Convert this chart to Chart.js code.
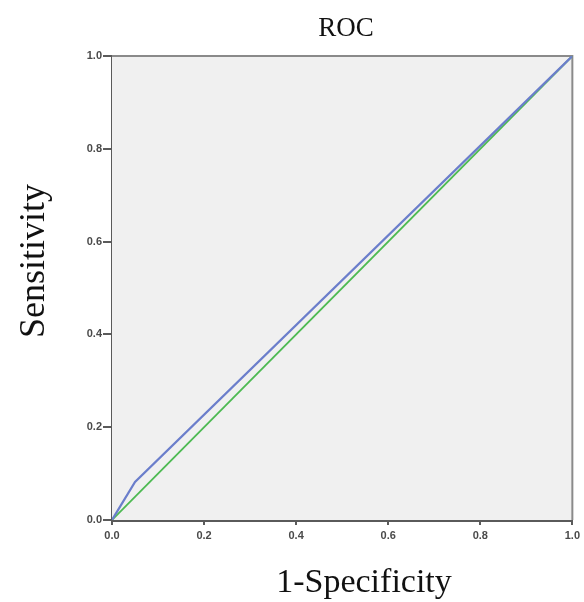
<!DOCTYPE html>
<html>
<head>
<meta charset="utf-8">
<script src="https://cdn.jsdelivr.net/npm/chart.js@4"></script>
<style>
  html, body { margin: 0; padding: 0; background: #fff; }
  #wrap { width: 584px; height: 602px; }
</style>
</head>
<body>
<div id="wrap"><canvas id="roc"></canvas></div>
<script>
// ROC curve: model vs. chance line
const specComplement = [0, 0.05, 1];     // 1 - specificity
const sensitivity = [0, 0.082, 1];
const chanceX = [0, 1];
const chanceY = [0, 1];
const tickValues = [0, 0.2, 0.4, 0.6, 0.8, 1.0];

const toPoints = (xs, ys) => xs.map((x, i) => ({ x, y: ys[i] }));

const axisColor = '#5a5a5a';
const tickFont = { family: 'Liberation Sans, Arial, sans-serif', size: 11, weight: 'bold' };

// plot background, frame and serif titles
const frame = {
  id: 'frame',
  beforeDatasetsDraw(chart) {
    const { ctx, chartArea: a } = chart;
    ctx.save();
    ctx.fillStyle = '#f0f0f0';
    ctx.fillRect(a.left, a.top, a.right - a.left, a.bottom - a.top);
    ctx.strokeStyle = '#8a8a8a';
    ctx.lineWidth = 2;
    ctx.beginPath();
    ctx.moveTo(a.left, a.top);
    ctx.lineTo(a.right, a.top);
    ctx.lineTo(a.right, a.bottom);
    ctx.stroke();
    ctx.restore();
  },
  afterDraw(chart) {
    const { ctx } = chart;
    ctx.save();
    ctx.fillStyle = '#111';
    ctx.textAlign = 'center';
    ctx.textBaseline = 'alphabetic';
    ctx.font = '27px "Liberation Serif", "Times New Roman", serif';
    ctx.fillText('ROC', 346, 36);
    ctx.font = '34px "Liberation Serif", "Times New Roman", serif';
    ctx.fillText('1-Specificity', 364, 592);
    ctx.font = '36px "Liberation Serif", "Times New Roman", serif';
    ctx.translate(44, 261);
    ctx.rotate(-Math.PI / 2);
    ctx.fillText('Sensitivity', 0, 0);
    ctx.restore();
  }
};

new Chart(document.getElementById('roc'), {
  type: 'scatter',
  data: {
    datasets: [
      { label: 'Model', data: toPoints(specComplement, sensitivity), showLine: true, borderColor: '#6b7ecb', borderWidth: 2.2, pointRadius: 0, tension: 0 },
      { label: 'Reference', data: toPoints(chanceX, chanceY), showLine: true, borderColor: '#4dba52', borderWidth: 1.8, pointRadius: 0, tension: 0 }
    ]
  },
  options: {
    responsive: true,
    maintainAspectRatio: false,
    animation: false,
    layout: { padding: { top: 56, right: 11, left: 0, bottom: 0 } },
    plugins: { legend: { display: false }, tooltip: { enabled: false } },
    scales: {
      x: {
        type: 'linear', min: 0, max: 1,
        afterBuildTicks: s => { s.ticks = tickValues.map(v => ({ value: v })); },
        afterFit: s => { s.height = 82; },
        ticks: { color: '#4a4a4a', font: tickFont, padding: 4, callback: v => v.toFixed(1), maxRotation: 0 },
        grid: { drawOnChartArea: false, drawTicks: true, tickLength: 5, color: axisColor, lineWidth: 2 },
        border: { display: true, color: axisColor, width: 3 }
      },
      y: {
        type: 'linear', min: 0, max: 1,
        afterBuildTicks: s => { s.ticks = tickValues.map(v => ({ value: v })); },
        afterFit: s => { s.width = 112; },
        ticks: { color: '#4a4a4a', font: tickFont, padding: 1, callback: v => v.toFixed(1) },
        grid: { drawOnChartArea: false, drawTicks: true, tickLength: 9, color: axisColor, lineWidth: 2 },
        border: { display: true, color: axisColor, width: 3 }
      }
    }
  },
  plugins: [frame]
});
</script>
</body>
</html>
